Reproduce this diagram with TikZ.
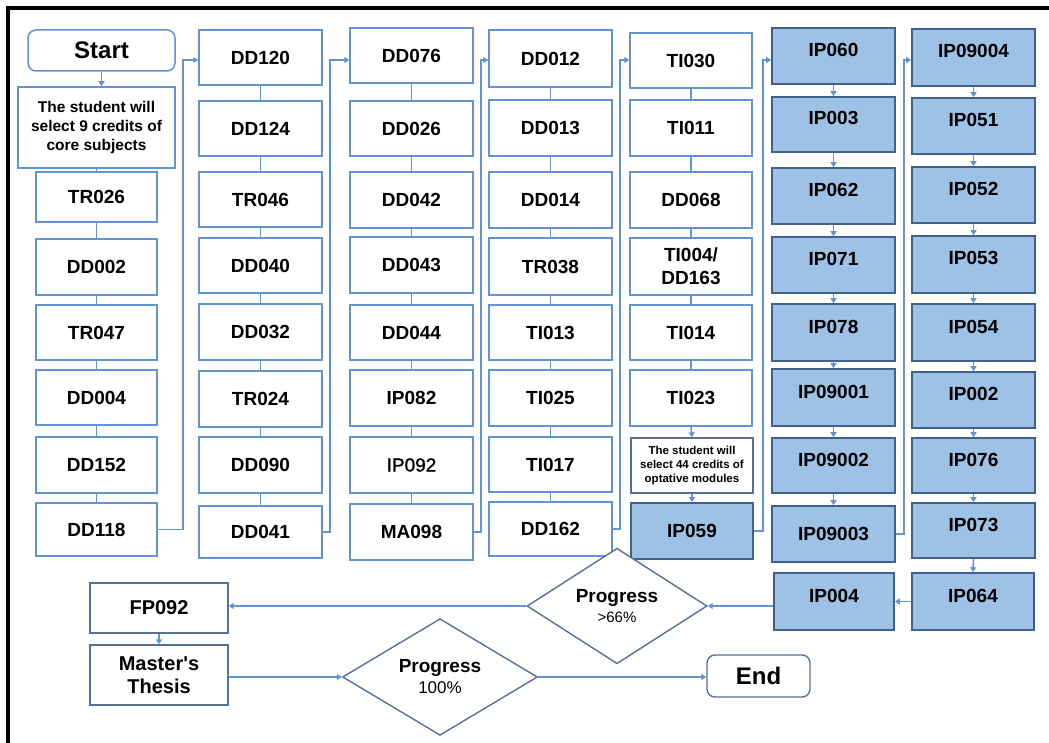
\documentclass[tikz,border=0pt]{standalone}
\usepackage{fontspec}
\setmainfont{Liberation Sans}
\newfontfamily\semibold[FakeBold=1.2]{Liberation Sans}
\usetikzlibrary{arrows.meta,shapes.geometric}
\definecolor{lblue}{RGB}{98,148,210}
\definecolor{bfill}{RGB}{157,194,230}
\definecolor{bdraw}{RGB}{66,96,138}
\definecolor{gdraw}{RGB}{88,112,148}
\newcommand\mybox[7]{%
  \pgfmathsetmacro\bxw{#5-#3}\pgfmathsetmacro\bxh{#6-#4}%
  \node[#1,minimum width=\bxw pt,minimum height=\bxh pt] (#2) at ({(#3+#5)/2},{(#4+#6)/2}) {#7};}
\begin{document}
\begin{tikzpicture}[x=1pt,y=-1pt,
  lab/.style={font=\fontsize{19}{22}\selectfont\bfseries,align=center,inner sep=0pt},
  wbox/.style={lab,draw=lblue,line width=1.5pt,fill=white},
  bbox/.style={lab,draw=bdraw,line width=1.6pt,fill=bfill},
  bup/.style={bbox,text height=7pt,text depth=6pt},
  gbox/.style={lab,draw=gdraw,line width=1.4pt,fill=white},
  dia/.style={diamond,draw=gdraw,line width=1.4pt,fill=white,inner sep=0pt,align=center,
    font=\fontsize{19}{22}\selectfont\bfseries},
  conn/.style={draw=lblue,line width=1.6pt},
  arr/.style={conn,-{Triangle[length=5pt,width=6pt]}}]
\useasboundingbox (0,0) rectangle (1049,743);
\fill[white] (0,0) rectangle (1049,743);
\draw[line width=3.5pt] (1049,8) -- (8,8) -- (8,743);
% column 1
\mybox{wbox,draw=lblue,rounded corners=8pt,font=\fontsize{24}{28}\selectfont\bfseries}{start}{28}{30}{175}{71}{Start}
\mybox{wbox,font=\fontsize{15.5}{19}\selectfont\bfseries}{t1}{18}{87}{175}{168}{The student will\\select 9 credits of\\core subjects}
\mybox{wbox}{TR026}{36}{172}{157}{222}{TR026}
\mybox{wbox}{DD002}{36}{239}{157}{295}{DD002}
\mybox{wbox}{TR047}{36}{305}{157}{360}{TR047}
\mybox{wbox}{DD004}{36}{370}{157}{425}{DD004}
\mybox{wbox}{DD152}{36}{437}{157}{493}{DD152}
\mybox{wbox}{DD118}{36}{503}{157}{556}{DD118}
% column 2
\mybox{wbox}{DD120}{199}{30}{322}{85}{DD120}
\mybox{wbox}{DD124}{199}{101}{322}{156}{DD124}
\mybox{wbox}{TR046}{199}{172}{322}{227}{TR046}
\mybox{wbox}{DD040}{199}{238}{322}{293}{DD040}
\mybox{wbox}{DD032}{199}{304}{322}{360}{DD032}
\mybox{wbox}{TR024}{199}{371}{322}{427}{TR024}
\mybox{wbox}{DD090}{199}{437}{322}{493}{DD090}
\mybox{wbox}{DD041}{199}{506}{322}{558}{DD041}
% column 3
\mybox{wbox}{DD076}{350}{28}{473}{83}{DD076}
\mybox{wbox}{DD026}{350}{101}{473}{156}{DD026}
\mybox{wbox}{DD042}{350}{172}{473}{228}{DD042}
\mybox{wbox}{DD043}{350}{237}{473}{293}{DD043}
\mybox{wbox}{DD044}{350}{305}{473}{360}{DD044}
\mybox{wbox}{IP082}{350}{370}{473}{426}{IP082}
\mybox{wbox,font=\fontsize{19}{22}\selectfont\semibold}{IP092}{350}{437}{473}{493}{IP092}
\mybox{wbox}{MA098}{350}{504}{473}{560}{MA098}
% column 4
\mybox{wbox}{DD012}{489}{30}{612}{87}{DD012}
\mybox{wbox}{DD013}{489}{100}{612}{156}{DD013}
\mybox{wbox}{DD014}{489}{172}{612}{228}{DD014}
\mybox{wbox}{TR038}{489}{238}{612}{295}{TR038}
\mybox{wbox}{TI013}{489}{305}{612}{360}{TI013}
\mybox{wbox}{TI025}{489}{370}{612}{426}{TI025}
\mybox{wbox}{TI017}{489}{437}{612}{492}{TI017}
\mybox{wbox}{DD162}{489}{502}{612}{556}{DD162}
% column 5
\mybox{wbox}{TI030}{630}{33}{752}{88}{TI030}
\mybox{wbox}{TI011}{630}{100}{752}{156}{TI011}
\mybox{wbox}{DD068}{630}{172}{752}{228}{DD068}
\mybox{wbox,font=\fontsize{19}{23}\selectfont\bfseries}{TI004}{630}{238}{752}{295}{TI004/\\DD163}
\mybox{wbox}{TI014}{630}{305}{752}{360}{TI014}
\mybox{wbox}{TI023}{630}{370}{752}{426}{TI023}
\mybox{gbox,font=\fontsize{11.5}{13.8}\selectfont\bfseries}{t2}{631}{438}{753}{493}{The student will\\select 44 credits of\\optative modules}
\mybox{bbox}{IP059}{631}{503}{753}{559}{IP059}
% column 6
\mybox{bup}{IP060}{772}{28}{895}{84}{IP060}
\mybox{bup}{IP003}{772}{97}{895}{152}{IP003}
\mybox{bup}{IP062}{772}{168}{895}{224}{IP062}
\mybox{bup}{IP071}{772}{237}{895}{293}{IP071}
\mybox{bup}{IP078}{772}{304}{895}{361}{IP078}
\mybox{bup}{IP09001}{772}{369}{895}{426}{IP09001}
\mybox{bup}{IP09002}{772}{438}{895}{493}{IP09002}
\mybox{bbox}{IP09003}{772}{506}{895}{562}{IP09003}
\mybox{bup}{IP004}{774}{573}{894}{630}{IP004}
% column 7
\mybox{bup}{IP09004}{912}{29}{1035}{86}{IP09004}
\mybox{bup}{IP051}{912}{98}{1035}{154}{IP051}
\mybox{bup}{IP052}{912}{167}{1035}{223}{IP052}
\mybox{bup}{IP053}{912}{236}{1035}{293}{IP053}
\mybox{bup}{IP054}{912}{304}{1035}{361}{IP054}
\mybox{bup}{IP002}{912}{372}{1035}{428}{IP002}
\mybox{bup}{IP076}{912}{438}{1035}{493}{IP076}
\mybox{bup}{IP073}{912}{503}{1035}{558}{IP073}
\mybox{bup}{IP064}{912}{573}{1034}{630}{IP064}
% bottom
\mybox{gbox,font=\fontsize{20}{23}\selectfont\bfseries}{FP092}{90}{583}{228}{633}{FP092}
\mybox{gbox,font=\fontsize{20}{23}\selectfont\bfseries}{MT}{90}{645}{228}{705}{Master\textquotesingle s\\Thesis}
\mybox{gbox,rounded corners=8pt,font=\fontsize{24}{28}\selectfont\bfseries}{End}{707}{655}{810}{697}{End}
\node[dia,minimum width=180pt,minimum height=100pt] (D1) at (617,606)
  {Progress\\[-2pt]{\fontsize{15}{18}\selectfont\mdseries >66\%}};
\node[dia,minimum width=195pt,minimum height=111pt] (D2) at (440,677)
  {Progress\\[-1pt]{\fontsize{17}{20}\selectfont\mdseries 100\%}};
% white column lines
\draw[arr] (start.south) -- (start.south |- t1.north);
\foreach \a/\b in {t1/TR026,TR026/DD002,DD002/TR047,TR047/DD004,DD004/DD152,DD152/DD118,
  DD120/DD124,DD124/TR046,TR046/DD040,DD040/DD032,DD032/TR024,TR024/DD090,DD090/DD041,
  DD076/DD026,DD026/DD042,DD042/DD043,DD043/DD044,DD044/IP082,IP082/IP092,IP092/MA098,
  DD012/DD013,DD013/DD014,DD014/TR038,TR038/TI013,TI013/TI025,TI025/TI017,TI017/DD162,
  TI030/TI011,TI011/DD068,DD068/TI004,TI004/TI014,TI014/TI023}
  \draw[conn] (\a.south) -- (\b.north);
\foreach \a/\b in {TI023/t2,t2/IP059,
  IP060/IP003,IP003/IP062,IP062/IP071,IP071/IP078,IP078/IP09001,IP09001/IP09002,IP09002/IP09003,
  IP09004/IP051,IP051/IP052,IP052/IP053,IP053/IP054,IP054/IP002,IP002/IP076,IP076/IP073,IP073/IP064}
  \draw[arr] (\a.south) -- (\b.north);
% column connectors
\coordinate (k1) at (183,60);
\coordinate (k2) at (330,60);
\coordinate (k3) at (481,60);
\coordinate (k4) at (620,60);
\coordinate (k5) at (763,60);
\coordinate (k6) at (904,60);
\draw[arr] (DD118.east) -| (k1) -- (k1 -| DD120.west);
\draw[arr] (DD041.east) -| (k2) -- (k2 -| DD076.west);
\draw[arr] (MA098.east) -| (k3) -- (k3 -| DD012.west);
\draw[arr] (DD162.east) -| (k4) -- (k4 -| TI030.west);
\draw[arr] (IP059.east) -| (k5) -- (k5 -| IP060.west);
\draw[arr] (IP09003.east) -| (k6) -- (k6 -| IP09004.west);
% bottom flow
\draw[arr] (IP064.west) -- (IP004.east);
\draw[arr] (IP004.west |- D1.east) -- (D1.east);
\draw[arr] (D1.west) -- (D1.west -| FP092.east);
\draw[arr] (FP092.south) -- (MT.north);
\draw[arr] (MT.east |- D2.west) -- (D2.west);
\draw[arr] (D2.east) -- (D2.east -| End.west);
\end{tikzpicture}
\end{document}
